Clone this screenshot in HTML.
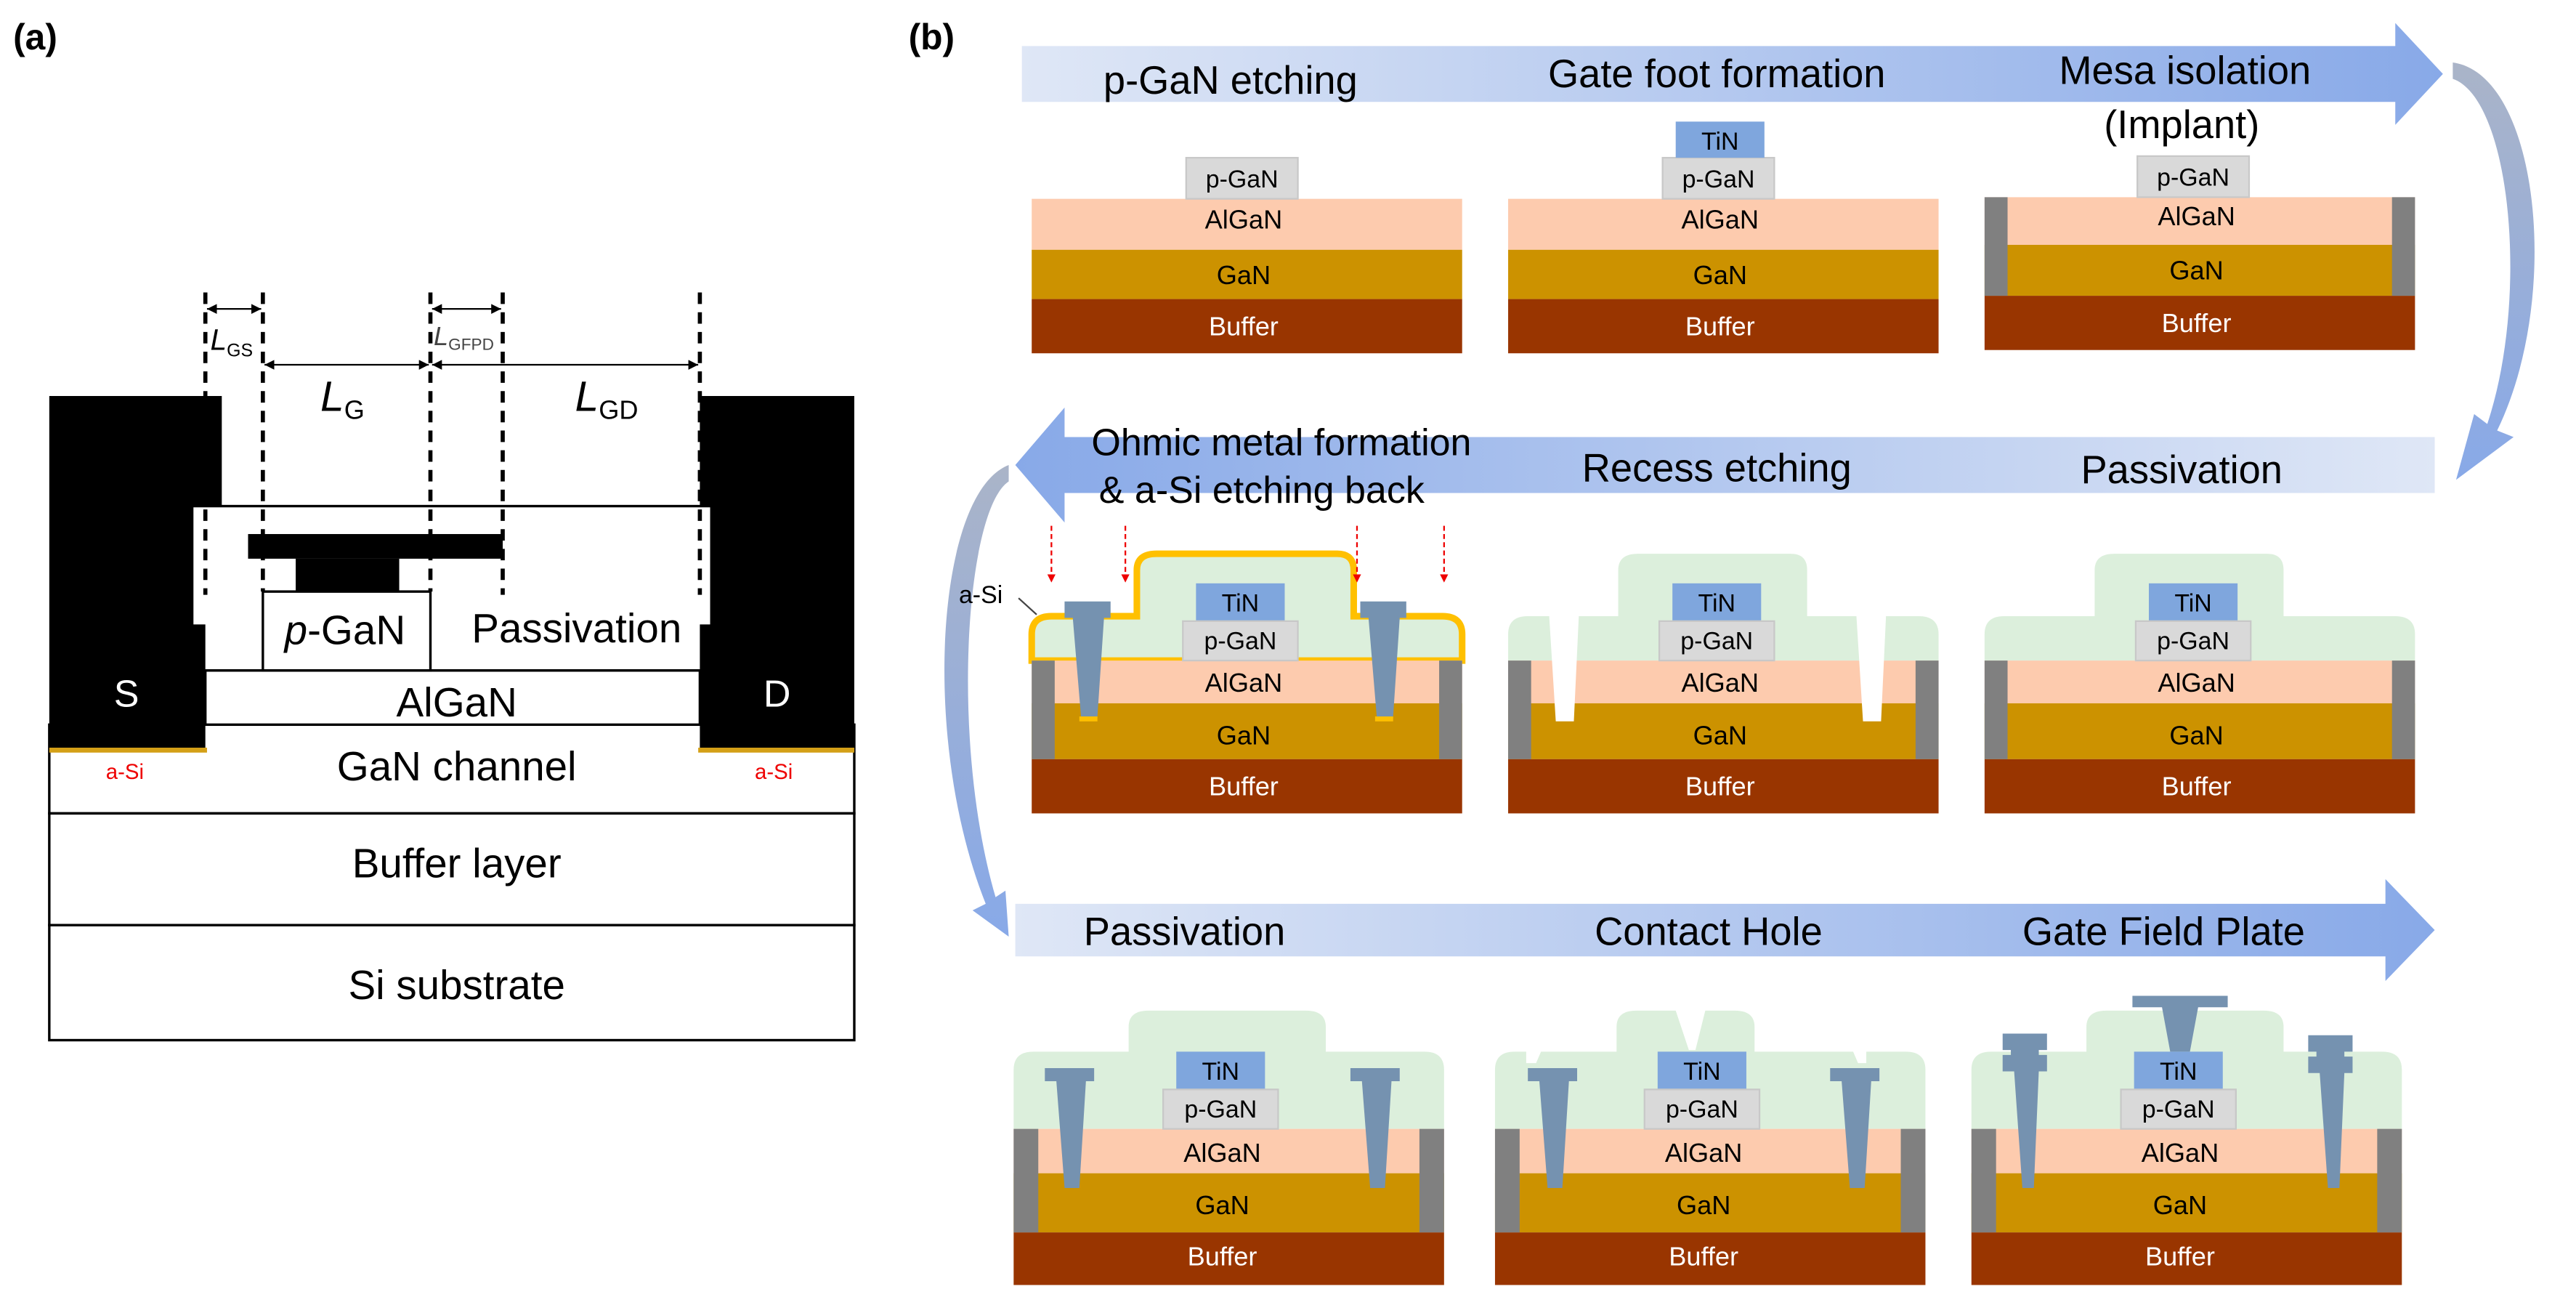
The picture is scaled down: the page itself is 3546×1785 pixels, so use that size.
<!DOCTYPE html>
<html><head><meta charset="utf-8"><style>
html,body{margin:0;padding:0;background:#fff;}
svg{display:block;}
text{font-family:"Liberation Sans","DejaVu Sans",sans-serif;}
</style></head><body>
<svg width="3546" height="1785" viewBox="0 0 1568 789.3" xmlns="http://www.w3.org/2000/svg">
<defs>
<linearGradient id="gR" x1="0" x2="1" y1="0" y2="0"><stop offset="0" stop-color="#dfe7f6"/><stop offset="1" stop-color="#88a9e8"/></linearGradient>
<linearGradient id="gL" x1="0" x2="1" y1="0" y2="0"><stop offset="0" stop-color="#88a9e8"/><stop offset="1" stop-color="#dfe7f6"/></linearGradient>
<linearGradient id="gC" x1="0" x2="0" y1="0" y2="1"><stop offset="0" stop-color="#aab4c8"/><stop offset="1" stop-color="#88a9e8"/></linearGradient>
<marker id="ar" viewBox="0 0 10 10" refX="10" refY="5" markerWidth="6" markerHeight="6" orient="auto-start-reverse"><path d="M0,0L10,5L0,10z" fill="#000"/></marker>
<marker id="rr" viewBox="0 0 10 10" refX="5" refY="9" markerWidth="5" markerHeight="5" orient="0"><path d="M0,0L10,0L5,10z" fill="#e00"/></marker>
</defs>

<!-- ===== Panel (a) ===== -->
<text x="8" y="30" font-size="22" font-weight="bold">(a)</text>
<g stroke="#000" stroke-width="1.5" fill="#fff">
<rect x="30" y="441" width="490" height="54"/>
<rect x="30" y="495" width="490" height="68"/>
<rect x="30" y="563" width="490" height="70"/>
<rect x="125" y="408" width="301" height="33"/>
<rect x="117" y="308" width="316" height="100"/>
<rect x="160" y="360" width="102" height="48"/>
</g>
<path d="M30,241H135V308H117V380H125V457H30Z" fill="#000"/>
<path d="M520,241H426V308H433V380H426V457H520Z" fill="#000"/>
<rect x="30" y="455" width="96" height="3" fill="#d4a017"/>
<rect x="425" y="455" width="95" height="3" fill="#d4a017"/>
<rect x="151" y="325" width="155" height="15" fill="#000"/>
<rect x="180" y="340" width="63" height="20" fill="#000"/>
<g stroke="#000" stroke-width="2.5" stroke-dasharray="7,5">
<line x1="125" y1="178" x2="125" y2="362"/>
<line x1="160" y1="178" x2="160" y2="360"/>
<line x1="262" y1="178" x2="262" y2="360"/>
<line x1="306" y1="178" x2="306" y2="362"/>
<line x1="426" y1="178" x2="426" y2="362"/>
</g>
<g stroke="#000" stroke-width="1">
<line x1="126" y1="188" x2="159" y2="188" marker-start="url(#ar)" marker-end="url(#ar)"/>
<line x1="263" y1="188" x2="305" y2="188" marker-start="url(#ar)" marker-end="url(#ar)"/>
<line x1="161" y1="222" x2="261" y2="222" marker-start="url(#ar)" marker-end="url(#ar)"/>
<line x1="263" y1="222" x2="425" y2="222" marker-start="url(#ar)" marker-end="url(#ar)"/>
</g>
<text x="128" y="213" font-size="18" font-style="italic">L<tspan font-size="11" font-style="normal" dy="4">GS</tspan></text>
<text x="264" y="210" font-size="16" font-style="italic" fill="#444">L<tspan font-size="10" font-style="normal" dy="3">GFPD</tspan></text>
<text x="195" y="250" font-size="26" font-style="italic">L<tspan font-size="16" font-style="normal" dy="5">G</tspan></text>
<text x="350" y="250" font-size="26" font-style="italic">L<tspan font-size="16" font-style="normal" dy="5">GD</tspan></text>
<text x="210" y="392" font-size="25" text-anchor="middle"><tspan font-style="italic">p</tspan>-GaN</text>
<text x="351" y="391" font-size="25" text-anchor="middle">Passivation</text>
<text x="278" y="436" font-size="25" text-anchor="middle">AlGaN</text>
<text x="278" y="475" font-size="25" text-anchor="middle">GaN channel</text>
<text x="278" y="534" font-size="25" text-anchor="middle">Buffer layer</text>
<text x="278" y="608" font-size="25" text-anchor="middle">Si substrate</text>
<text x="77" y="430" font-size="23" fill="#fff" text-anchor="middle">S</text>
<text x="473" y="430" font-size="23" fill="#fff" text-anchor="middle">D</text>
<text x="76" y="474" font-size="13" fill="#e00" text-anchor="middle">a-Si</text>
<text x="471" y="474" font-size="13" fill="#e00" text-anchor="middle">a-Si</text>

<!-- ===== Panel (b) ===== -->
<text x="553" y="30" font-size="22" font-weight="bold">(b)</text>

<path d="M622,28H1458V14L1487,45L1458,76V62H622Z" fill="url(#gR)"/>
<text x="749" y="57" font-size="24" text-anchor="middle">p-GaN etching</text>
<text x="1045" y="53" font-size="24" text-anchor="middle">Gate foot formation</text>
<text x="1330" y="51" font-size="24" text-anchor="middle">Mesa isolation</text>
<text x="1328" y="84" font-size="24" text-anchor="middle">(Implant)</text>
<path d="M1493,38 C1545,45 1560,180 1520,262 L1530,266 L1495,292 L1506,252 L1514,258 C1540,180 1528,60 1493,48 Z" fill="url(#gC)"/>

<path d="M1482,266H648V248L618,283L648,318V300H1482Z" fill="url(#gL)"/>
<text x="780" y="277" font-size="23" text-anchor="middle">Ohmic metal formation</text>
<text x="768" y="306" font-size="23" text-anchor="middle">&amp; a-Si etching back</text>
<text x="1045" y="293" font-size="24" text-anchor="middle">Recess etching</text>
<text x="1328" y="294" font-size="24" text-anchor="middle">Passivation</text>
<path d="M614,283 C570,300 560,450 600,550 L592,554 L614,570 L612,542 L606,546 C578,450 588,310 614,293 Z" fill="url(#gC)"/>

<path d="M618,550H1452V535L1482,566L1452,597V582H618Z" fill="url(#gR)"/>
<text x="721" y="575" font-size="24" text-anchor="middle">Passivation</text>
<text x="1040" y="575" font-size="24" text-anchor="middle">Contact Hole</text>
<text x="1317" y="575" font-size="24" text-anchor="middle">Gate Field Plate</text>

<!-- Row 1 devices -->
<g transform="translate(628,121)">
<rect x="0" y="0" width="262" height="31" fill="#fdcbae"/><rect x="0" y="31" width="262" height="30" fill="#cc9200"/><rect x="0" y="61" width="262" height="33" fill="#993500"/>
<rect x="94" y="-25" width="68" height="25" fill="#d9d9d9" stroke="#c8c8c8"/>
<text x="128" y="-7" font-size="15" text-anchor="middle">p-GaN</text>
<text x="129" y="18" font-size="16" text-anchor="middle">AlGaN</text><text x="129" y="52" font-size="16" text-anchor="middle">GaN</text><text x="129" y="83" font-size="16" fill="#fff" text-anchor="middle">Buffer</text>
</g>
<g transform="translate(918,121)">
<rect x="0" y="0" width="262" height="31" fill="#fdcbae"/><rect x="0" y="31" width="262" height="30" fill="#cc9200"/><rect x="0" y="61" width="262" height="33" fill="#993500"/>
<rect x="94" y="-25" width="68" height="25" fill="#d9d9d9" stroke="#c8c8c8"/>
<rect x="102" y="-47" width="54" height="22" fill="#7fa6dd"/>
<text x="129" y="-30" font-size="15" text-anchor="middle">TiN</text>
<text x="128" y="-7" font-size="15" text-anchor="middle">p-GaN</text>
<text x="129" y="18" font-size="16" text-anchor="middle">AlGaN</text><text x="129" y="52" font-size="16" text-anchor="middle">GaN</text><text x="129" y="83" font-size="16" fill="#fff" text-anchor="middle">Buffer</text>
</g>
<g transform="translate(1208,120)">
<rect x="0" y="0" width="262" height="29" fill="#fdcbae"/><rect x="0" y="29" width="262" height="31" fill="#cc9200"/><rect x="0" y="60" width="262" height="33" fill="#993500"/>
<rect x="0" y="0" width="14" height="60" fill="#808080"/><rect x="248" y="0" width="14" height="60" fill="#808080"/>
<rect x="93" y="-25" width="68" height="25" fill="#d9d9d9" stroke="#c8c8c8"/>
<text x="127" y="-7" font-size="15" text-anchor="middle">p-GaN</text>
<text x="129" y="17" font-size="16" text-anchor="middle">AlGaN</text><text x="129" y="50" font-size="16" text-anchor="middle">GaN</text><text x="129" y="82" font-size="16" fill="#fff" text-anchor="middle">Buffer</text>
</g>

<!-- Row 2 devices -->
<g transform="translate(628,402)">
<path d="M0,0V-16Q0,-27 12,-27H64V-55Q64,-65 76,-65H186Q196,-65 196,-55V-27H250Q262,-27 262,-16V0Z" fill="#dcefdc" stroke="#ffc000" stroke-width="4"/>
<rect x="0" y="0" width="262" height="26" fill="#fdcbae"/><rect x="0" y="26" width="262" height="34" fill="#cc9200"/><rect x="0" y="60" width="262" height="33" fill="#993500"/>
<rect x="0" y="0" width="14" height="60" fill="#808080"/><rect x="248" y="0" width="14" height="60" fill="#808080"/>
<path d="M20,-36H48V-26H44L40,34H30L25,-26H20Z" fill="#7592b0"/>
<path d="M200,-36H228V-26H224L220,34H210L205,-26H200Z" fill="#7592b0"/>
<rect x="29" y="34" width="11" height="3" fill="#ffc000"/><rect x="209" y="34" width="11" height="3" fill="#ffc000"/>
<rect x="100" y="-47" width="54" height="23" fill="#7fa6dd"/>
<rect x="92" y="-24" width="70" height="24" fill="#d9d9d9" stroke="#c8c8c8"/>
<text x="127" y="-30" font-size="15" text-anchor="middle">TiN</text>
<text x="127" y="-7" font-size="15" text-anchor="middle">p-GaN</text>
<text x="129" y="19" font-size="16" text-anchor="middle">AlGaN</text><text x="129" y="51" font-size="16" text-anchor="middle">GaN</text><text x="129" y="82" font-size="16" fill="#fff" text-anchor="middle">Buffer</text>
<g stroke="#e00" stroke-width="1" stroke-dasharray="3,2">
<line x1="12" y1="-82" x2="12" y2="-48" marker-end="url(#rr)"/>
<line x1="57" y1="-82" x2="57" y2="-48" marker-end="url(#rr)"/>
<line x1="198" y1="-82" x2="198" y2="-48" marker-end="url(#rr)"/>
<line x1="251" y1="-82" x2="251" y2="-48" marker-end="url(#rr)"/>
</g>
<line x1="-8" y1="-38" x2="3" y2="-28" stroke="#444" stroke-width="1"/>
</g>
<text x="597" y="367" font-size="15" text-anchor="middle">a-Si</text>
<g transform="translate(918,402)">
<path d="M0,0V-16Q0,-27 12,-27H67V-55Q67,-65 79,-65H172Q182,-65 182,-55V-27H250Q262,-27 262,-16V0Z" fill="#dcefdc"/>
<rect x="0" y="0" width="262" height="26" fill="#fdcbae"/><rect x="0" y="26" width="262" height="34" fill="#cc9200"/><rect x="0" y="60" width="262" height="33" fill="#993500"/>
<rect x="0" y="0" width="14" height="60" fill="#808080"/><rect x="248" y="0" width="14" height="60" fill="#808080"/>
<path d="M25,-27H43L40,37H29Z" fill="#fff"/>
<path d="M212,-27H230L227,37H216Z" fill="#fff"/>
<rect x="100" y="-47" width="54" height="23" fill="#7fa6dd"/>
<rect x="92" y="-24" width="70" height="24" fill="#d9d9d9" stroke="#c8c8c8"/>
<text x="127" y="-30" font-size="15" text-anchor="middle">TiN</text>
<text x="127" y="-7" font-size="15" text-anchor="middle">p-GaN</text>
<text x="129" y="19" font-size="16" text-anchor="middle">AlGaN</text><text x="129" y="51" font-size="16" text-anchor="middle">GaN</text><text x="129" y="82" font-size="16" fill="#fff" text-anchor="middle">Buffer</text>
</g>
<g transform="translate(1208,402)">
<path d="M0,0V-16Q0,-27 12,-27H67V-55Q67,-65 79,-65H172Q182,-65 182,-55V-27H250Q262,-27 262,-16V0Z" fill="#dcefdc"/>
<rect x="0" y="0" width="262" height="26" fill="#fdcbae"/><rect x="0" y="26" width="262" height="34" fill="#cc9200"/><rect x="0" y="60" width="262" height="33" fill="#993500"/>
<rect x="0" y="0" width="14" height="60" fill="#808080"/><rect x="248" y="0" width="14" height="60" fill="#808080"/>
<rect x="100" y="-47" width="54" height="23" fill="#7fa6dd"/>
<rect x="92" y="-24" width="70" height="24" fill="#d9d9d9" stroke="#c8c8c8"/>
<text x="127" y="-30" font-size="15" text-anchor="middle">TiN</text>
<text x="127" y="-7" font-size="15" text-anchor="middle">p-GaN</text>
<text x="129" y="19" font-size="16" text-anchor="middle">AlGaN</text><text x="129" y="51" font-size="16" text-anchor="middle">GaN</text><text x="129" y="82" font-size="16" fill="#fff" text-anchor="middle">Buffer</text>
</g>

<!-- Row 3 devices -->
<g transform="translate(617,687)">
<path d="M0,0V-36Q0,-47 12,-47H70V-62Q70,-72 82,-72H178Q190,-72 190,-62V-47H250Q262,-47 262,-36V0Z" fill="#dcefdc"/>
<rect x="0" y="0" width="262" height="27" fill="#fdcbae"/><rect x="0" y="27" width="262" height="36" fill="#cc9200"/><rect x="0" y="63" width="262" height="32" fill="#993500"/>
<rect x="0" y="0" width="15" height="63" fill="#808080"/><rect x="247" y="0" width="15" height="63" fill="#808080"/>
<path d="M19,-37H49V-29H44L40,36H31L26,-29H19Z" fill="#7592b0"/>
<path d="M205,-37H235V-29H230L226,36H217L212,-29H205Z" fill="#7592b0"/>
<rect x="99" y="-47" width="54" height="23" fill="#7fa6dd"/>
<rect x="91" y="-24" width="70" height="24" fill="#d9d9d9" stroke="#c8c8c8"/>
<text x="126" y="-30" font-size="15" text-anchor="middle">TiN</text>
<text x="126" y="-7" font-size="15" text-anchor="middle">p-GaN</text>
<text x="127" y="20" font-size="16" text-anchor="middle">AlGaN</text><text x="127" y="52" font-size="16" text-anchor="middle">GaN</text><text x="127" y="83" font-size="16" fill="#fff" text-anchor="middle">Buffer</text>
</g>
<g transform="translate(910,687)">
<path d="M0,0V-36Q0,-47 12,-47H19V-40H25L28,-47H74V-62Q74,-72 86,-72H110L118,-48H122L128,-72H146Q158,-72 158,-62V-47H218L221,-40H226V-47H250Q262,-47 262,-36V0Z" fill="#dcefdc"/>
<rect x="0" y="0" width="262" height="27" fill="#fdcbae"/><rect x="0" y="27" width="262" height="36" fill="#cc9200"/><rect x="0" y="63" width="262" height="32" fill="#993500"/>
<rect x="0" y="0" width="15" height="63" fill="#808080"/><rect x="247" y="0" width="15" height="63" fill="#808080"/>
<path d="M20,-37H50V-29H45L41,36H32L27,-29H20Z" fill="#7592b0"/>
<path d="M204,-37H234V-29H229L225,36H216L211,-29H204Z" fill="#7592b0"/>
<rect x="99" y="-47" width="54" height="23" fill="#7fa6dd"/>
<rect x="91" y="-24" width="70" height="24" fill="#d9d9d9" stroke="#c8c8c8"/>
<text x="126" y="-30" font-size="15" text-anchor="middle">TiN</text>
<text x="126" y="-7" font-size="15" text-anchor="middle">p-GaN</text>
<text x="127" y="20" font-size="16" text-anchor="middle">AlGaN</text><text x="127" y="52" font-size="16" text-anchor="middle">GaN</text><text x="127" y="83" font-size="16" fill="#fff" text-anchor="middle">Buffer</text>
</g>
<g transform="translate(1200,687)">
<path d="M0,0V-36Q0,-47 12,-47H70V-62Q70,-72 82,-72H178Q190,-72 190,-62V-47H250Q262,-47 262,-36V0Z" fill="#dcefdc"/>
<rect x="0" y="0" width="262" height="27" fill="#fdcbae"/><rect x="0" y="27" width="262" height="36" fill="#cc9200"/><rect x="0" y="63" width="262" height="32" fill="#993500"/>
<rect x="0" y="0" width="15" height="63" fill="#808080"/><rect x="247" y="0" width="15" height="63" fill="#808080"/>
<path d="M19,-58H46V-48H41V-45H46V-35H41L38,36H31L26,-35H19V-45H24V-48H19Z" fill="#7592b0"/>
<path d="M205,-57H232V-47H227V-44H232V-34H227L224,36H217L212,-34H205V-44H210V-47H205Z" fill="#7592b0"/>
<path d="M98,-81H156V-74H138L133,-47H121L116,-74H98Z" fill="#7592b0"/>
<rect x="99" y="-47" width="54" height="23" fill="#7fa6dd"/>
<rect x="91" y="-24" width="70" height="24" fill="#d9d9d9" stroke="#c8c8c8"/>
<text x="126" y="-30" font-size="15" text-anchor="middle">TiN</text>
<text x="126" y="-7" font-size="15" text-anchor="middle">p-GaN</text>
<text x="127" y="20" font-size="16" text-anchor="middle">AlGaN</text><text x="127" y="52" font-size="16" text-anchor="middle">GaN</text><text x="127" y="83" font-size="16" fill="#fff" text-anchor="middle">Buffer</text>
</g>
</svg>
</body></html>
